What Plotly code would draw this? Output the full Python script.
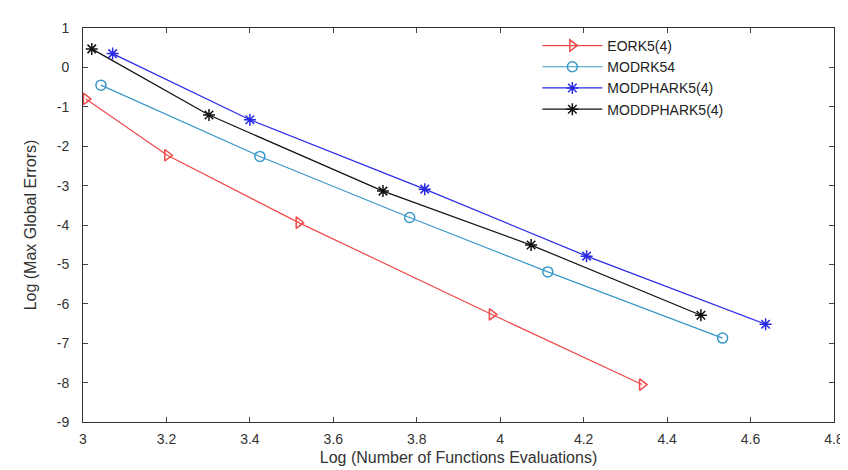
import plotly.graph_objects as go

series_names = ["EORK5(4)", "MODRK54", "MODPHARK5(4)", "MODDPHARK5(4)"]
eork_x = [3.007, 3.202, 3.517, 3.98, 4.34]
eork_y = [-0.80, -2.23, -3.94, -6.27, -8.05]
modrk_x = [3.043, 3.424, 3.783, 4.114, 4.533]
modrk_y = [-0.45, -2.26, -3.81, -5.19, -6.87]
modphark_x = [3.071, 3.40, 3.819, 4.207, 4.636]
modphark_y = [0.35, -1.33, -3.09, -4.79, -6.52]
moddphark_x = [3.021, 3.302, 3.719, 4.074, 4.481]
moddphark_y = [0.47, -1.21, -3.14, -4.51, -6.29]

x_ticks = [3, 3.2, 3.4, 3.6, 3.8, 4, 4.2, 4.4, 4.6, 4.8]
y_ticks = [1, 0, -1, -2, -3, -4, -5, -6, -7, -8, -9]

styles = [
    dict(color="#f04a4a", symbol="triangle-right-open"),
    dict(color="#3a98c8", symbol="circle-open"),
    dict(color="#2a2ae6", symbol="asterisk-open"),
    dict(color="#111111", symbol="asterisk-open"),
]
data = [(eork_x, eork_y), (modrk_x, modrk_y), (modphark_x, modphark_y), (moddphark_x, moddphark_y)]

fig = go.Figure()
for name, (xs, ys), st in zip(series_names, data, styles):
    fig.add_trace(go.Scatter(
        x=xs, y=ys, name=name, mode="lines+markers",
        line=dict(color=st["color"], width=1.2),
        marker=dict(symbol=st["symbol"], size=10, color=st["color"],
                    line=dict(color=st["color"], width=1.5)),
    ))

font = "Liberation Sans, Arial, sans-serif"
fig.update_layout(
    width=848, height=470,
    margin=dict(l=75, r=16, t=15, b=56),
    paper_bgcolor="white", plot_bgcolor="white",
    font=dict(family=font, size=14, color="#333333"),
    showlegend=True,
    legend=dict(x=0.605, y=0.995, xanchor="left", yanchor="top",
                bgcolor="rgba(255,255,255,0)", borderwidth=0,
                font=dict(size=14, color="#222222"),
                tracegroupgap=0, itemwidth=60),
    xaxis=dict(range=[3, 4.8], tickvals=x_ticks, ticktext=[f"{v:g}" for v in x_ticks],
               ticks="inside", ticklen=5, tickcolor="#444", showgrid=False, zeroline=False,
               showline=True, linecolor="#333", linewidth=1, mirror="ticks",
               ticklabelstandoff=4,
               title=dict(text="Log (Number of Functions Evaluations)", font=dict(size=16), standoff=6)),
    yaxis=dict(range=[-9, 1], tickvals=y_ticks, ticktext=[str(v) for v in y_ticks],
               ticks="inside", ticklen=5, tickcolor="#444", showgrid=False, zeroline=False,
               showline=True, linecolor="#333", linewidth=1, mirror="ticks",
               ticklabelstandoff=10,
               title=dict(text="Log (Max Global Errors)", font=dict(size=16), standoff=16)),
)
fig.write_html("out.html")
